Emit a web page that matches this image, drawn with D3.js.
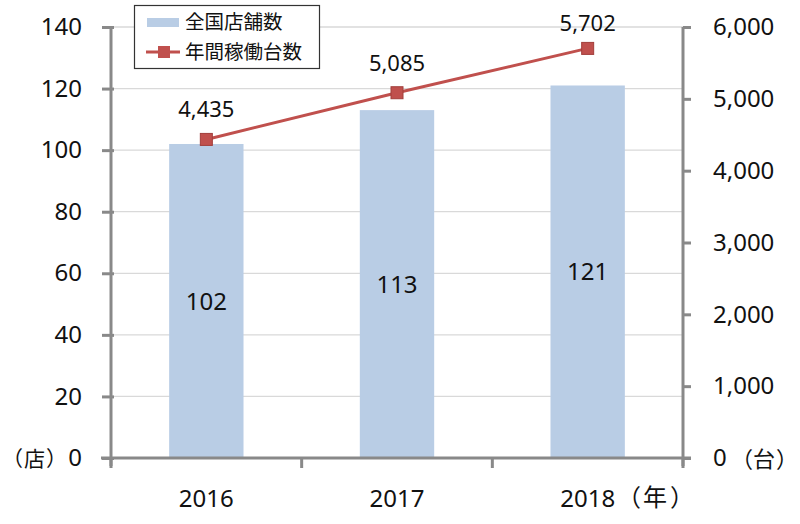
<!DOCTYPE html>
<html><head><meta charset="utf-8">
<script src="https://cdn.jsdelivr.net/npm/d3@7"></script>
<style>body{margin:0;background:#fff}svg{display:block}text{font-family:"Noto Sans","Noto Sans CJK JP",sans-serif}</style>
</head><body><svg id="c" width="800" height="524"></svg>
<script>
const years = ["2016","2017","2018"];
const stores = [102,113,121];
const units = [4435,5085,5702];
const leftTicks = [0,20,40,60,80,100,120,140];
const rightTicks = [0,1000,2000,3000,4000,5000,6000];
const legendLabels = ["全国店舗数","年間稼働台数"];

const svg = d3.select("#c");
const L=111,R=683,T=27,B=458;
const x = d3.scaleBand().domain(years).range([L,R]).paddingInner(0.61).paddingOuter(0.305);
const yL = d3.scaleLinear().domain([0,140]).range([B,T]);
const yR = d3.scaleLinear().domain([0,6000]).range([B,T]);
const axisCol="#898989", jp='"Noto Sans CJK JP",sans-serif';

// gridlines
svg.append("g").selectAll("line").data(leftTicks.filter(d=>d>0)).join("line")
  .attr("x1",L).attr("x2",R).attr("y1",d=>yL(d)).attr("y2",d=>yL(d))
  .attr("stroke","#d9d9d9").attr("stroke-width",1.3);

// bars
svg.append("g").selectAll("rect").data(stores).join("rect")
  .attr("x",(d,i)=>x(years[i])).attr("width",x.bandwidth())
  .attr("y",d=>yL(d)).attr("height",d=>B-yL(d)).attr("fill","#b9cde5");
svg.append("g").selectAll("text").data(stores).join("text")
  .attr("x",(d,i)=>x(years[i])+x.bandwidth()/2).attr("y",d=>(yL(d)+B)/2)
  .attr("dy","0.36em").attr("text-anchor","middle").attr("font-size",24).attr("fill","#111")
  .text(d=>d);

// left axis
const gl = svg.append("g").attr("transform",`translate(${L},0)`)
  .call(d3.axisLeft(yL).tickValues(leftTicks).tickSize(9).tickPadding(20));
gl.select(".domain").remove();
gl.selectAll(".tick line").attr("stroke",axisCol).attr("stroke-width",3).attr("x2",-9).attr("x1",3);
gl.selectAll(".tick text").attr("font-size",24).attr("fill","#111").attr("font-family",'"Noto Sans",sans-serif');
svg.append("line").attr("x1",L).attr("x2",L).attr("y1",T).attr("y2",B+8).attr("stroke",axisCol).attr("stroke-width",3);

// right axis
const gr = svg.append("g").attr("transform",`translate(${R},0)`)
  .call(d3.axisRight(yR).tickValues(rightTicks).tickSize(8).tickPadding(22).tickFormat(d3.format(",")));
gr.select(".domain").remove();
gr.selectAll(".tick line").attr("stroke",axisCol).attr("stroke-width",3);
gr.selectAll(".tick text").attr("font-size",24).attr("fill","#111").attr("font-family",'"Noto Sans",sans-serif');
svg.append("line").attr("x1",R).attr("x2",R).attr("y1",T).attr("y2",B+8).attr("stroke",axisCol).attr("stroke-width",3);

// bottom axis
svg.append("line").attr("x1",L-10).attr("x2",R+8).attr("y1",B).attr("y2",B).attr("stroke",axisCol).attr("stroke-width",3);
const xt = [L, ...years.slice(1).map(y=>x(y)-x.step()*x.paddingInner()/2), R];
svg.append("g").selectAll("line").data(xt).join("line")
  .attr("x1",d=>d).attr("x2",d=>d).attr("y1",B).attr("y2",B+10).attr("stroke",axisCol).attr("stroke-width",3);
svg.append("g").selectAll("text").data(years).join("text")
  .attr("x",d=>x(d)+x.bandwidth()/2).attr("y",507).attr("text-anchor","middle")
  .attr("font-size",24).attr("fill","#111").text(d=>d);

// unit labels (per-character x positions to tighten the full-width brackets)
svg.append("text").attr("x","2 24 46").attr("y",466).attr("font-size",21).attr("font-family",jp).attr("fill","#111").text("（店）");
svg.append("text").attr("x","731 753 776").attr("y",467).attr("font-size",22).attr("font-family",jp).attr("fill","#111").text("（台）");
svg.append("text").attr("x","617 643 670").attr("y",506).attr("font-size",24).attr("font-family",jp).attr("fill","#111").text("（年）");

// line
const lineCol="#c0504d";
const pts = units.map((v,i)=>[x(years[i])+x.bandwidth()/2, yR(v)]);
svg.append("path").attr("d",d3.line()(pts)).attr("fill","none").attr("stroke",lineCol).attr("stroke-width",3);
svg.append("g").selectAll("rect").data(pts).join("rect")
  .attr("x",d=>d[0]-6).attr("y",d=>d[1]-6).attr("width",12).attr("height",12)
  .attr("fill",lineCol).attr("stroke","#a23e3b").attr("stroke-width",1);
svg.append("g").selectAll("text").data(units).join("text")
  .attr("x",(d,i)=>pts[i][0]).attr("y",(d,i)=>Math.max(pts[i][1]-22, 31))
  .attr("text-anchor","middle").attr("font-size",22).attr("fill","#111")
  .text(d=>d3.format(",")(d));

// legend
const lg = svg.append("g");
lg.append("rect").attr("x",134.5).attr("y",5.5).attr("width",185).attr("height",63)
  .attr("fill","#fff").attr("stroke","#333").attr("stroke-width",1.2);
lg.append("rect").attr("x",147).attr("y",18).attr("width",32).attr("height",9).attr("fill","#b9cde5");
lg.append("line").attr("x1",146).attr("x2",180).attr("y1",52).attr("y2",52).attr("stroke",lineCol).attr("stroke-width",3);
lg.append("rect").attr("x",158).attr("y",46).attr("width",12).attr("height",12).attr("fill",lineCol);
lg.selectAll("text.l").data(legendLabels).join("text").attr("class","l")
  .attr("x",185).attr("y",(d,i)=>22+i*30).attr("dy","0.36em")
  .attr("font-size",19.5).attr("font-family",jp).attr("fill","#111").text(d=>d);
</script></body></html>
